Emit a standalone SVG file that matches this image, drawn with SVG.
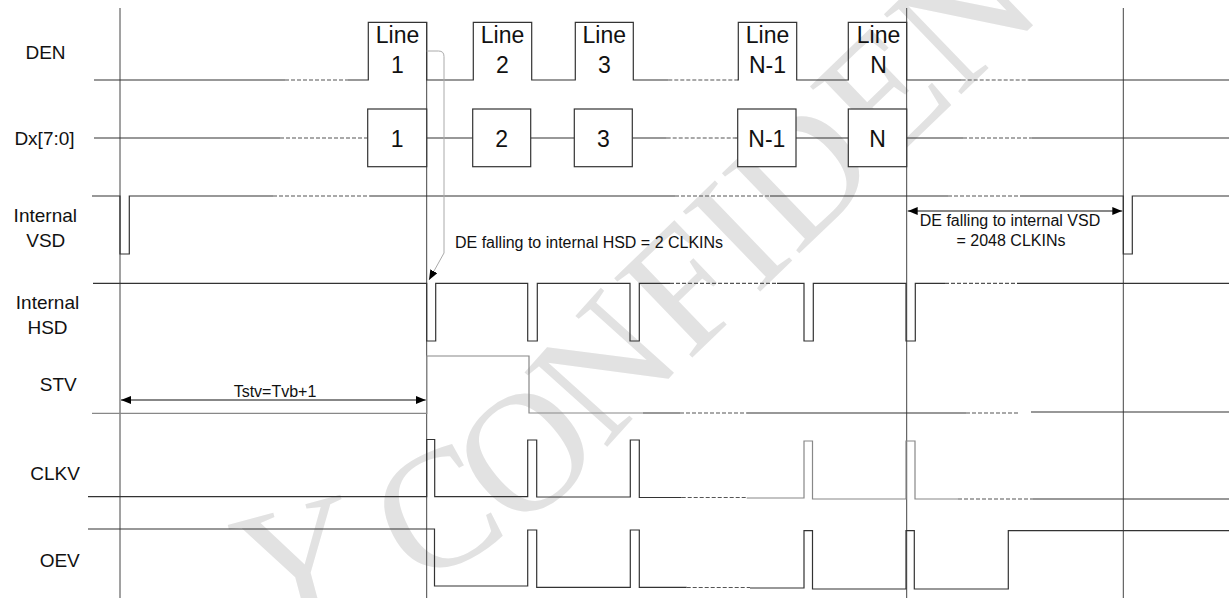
<svg xmlns="http://www.w3.org/2000/svg" width="1231" height="598" viewBox="0 0 1231 598">
<style>
.sig{fill:none;stroke:#333;stroke-width:1.2}
.gry{fill:none;stroke:#888;stroke-width:1.2}
.dsh{fill:none;stroke:#555;stroke-width:1.2;stroke-dasharray:4 2}
.vl{fill:none;stroke:#444;stroke-width:1}
.box{fill:#fff;stroke:#333;stroke-width:1.2}
.lbl{font-family:"Liberation Sans",Arial,sans-serif;font-size:19px;fill:#111;text-anchor:middle}
.bt{font-family:"Liberation Sans",Arial,sans-serif;font-size:23px;fill:#111;text-anchor:middle}
.nt{font-family:"Liberation Sans",Arial,sans-serif;font-size:16px;fill:#111}
.wm{font-family:"Liberation Serif","Times New Roman",serif;font-size:170px;fill:#e2e2e2;text-anchor:middle}
</style>
<defs>
<marker id="ah" viewBox="0 0 10 8" refX="10" refY="4" markerWidth="10" markerHeight="8" markerUnits="userSpaceOnUse" orient="auto-start-reverse"><path d="M0,0 L10,4 L0,8 Z" fill="#000"/></marker>
</defs>
<rect width="1231" height="598" fill="#fff"/>
<g id="watermark">
<text class="wm" transform="translate(314,617) rotate(-15)">Y</text>
<text class="wm" transform="translate(463,561) rotate(-28)">C</text>
<text class="wm" transform="translate(561,495) rotate(-40)">O</text>
<text class="wm" transform="translate(645,405) rotate(-48)">N</text>
<text class="wm" transform="translate(722,329) rotate(-44)">F</text>
<text class="wm" transform="translate(776,276) rotate(-44)">I</text>
<text class="wm" transform="translate(840,214) rotate(-44)">D</text>
<text class="wm" transform="translate(921,134) rotate(-44)">E</text>
<text class="wm" transform="translate(1002,55) rotate(-44)">N</text>
<text class="wm" transform="translate(1083,-24) rotate(-44)">T</text>
</g>

<g id="grid">
<path class="vl" d="M120,8 V598 M426.7,22 V598 M906.7,8 V598 M1123.3,8 V598"/>
</g>

<g id="labels">
<text class="lbl" x="45.5" y="59.3">DEN</text>
<text class="lbl" x="44.5" y="145">Dx[7:0]</text>
<text class="lbl" x="45.3" y="221.7">Internal</text>
<text class="lbl" x="45.8" y="246.7">VSD</text>
<text class="lbl" x="47.5" y="309">Internal</text>
<text class="lbl" x="47.5" y="334">HSD</text>
<text class="lbl" x="58.3" y="390.7">STV</text>
<text class="lbl" x="55" y="480">CLKV</text>
<text class="lbl" x="59.7" y="566.7">OEV</text>
</g>

<g id="DEN">
<path class="sig" d="M94,80 H285 M348,80 H368.3 V22.3 H426.7 V80 H473.3 V22.3 H531.7 V80 H575.3 V22.3 H633.3 V80 H668.3 M736.7,80 H738.3 V22.3 H796.7 V80 H848.3 V22.3 H906.7 V80 H961.7 M1028.3,80 H1229"/>
<path class="dsh" d="M285,80 H348 M668.3,80 H736.7 M961.7,80 H1028.3"/>
<text class="bt" x="397.5" y="42.7">Line</text><text class="bt" x="397.5" y="73.3">1</text>
<text class="bt" x="502.5" y="42.7">Line</text><text class="bt" x="502.5" y="73.3">2</text>
<text class="bt" x="604.3" y="42.7">Line</text><text class="bt" x="604.3" y="73.3">3</text>
<text class="bt" x="767.5" y="42.7">Line</text><text class="bt" x="767.5" y="73.3">N-1</text>
<text class="bt" x="878.5" y="42.7">Line</text><text class="bt" x="878.5" y="73.3">N</text>
</g>

<g id="Dx">
<path class="sig" d="M94,138 H280 M426.7,138 H472.7 M530.7,138 H574.3 M632.3,138 H666.7 M735,138 H737.7 M796,138 H848.3 M906.7,138 H963 M1031.7,138 H1229"/>
<path class="dsh" d="M280,138 H367.7 M666.7,138 H735 M963,138 H1031.7"/>
<rect class="box" x="367.7" y="109" width="59" height="57.7"/>
<rect class="box" x="472.7" y="109" width="58" height="57.7"/>
<rect class="box" x="574.3" y="109" width="58" height="57.7"/>
<rect class="box" x="737.7" y="109" width="58.3" height="57.7"/>
<rect class="box" x="848.3" y="109" width="58.4" height="57.7"/>
<text class="bt" x="397.2" y="146.7">1</text>
<text class="bt" x="501.7" y="146.7">2</text>
<text class="bt" x="603.3" y="146.7">3</text>
<text class="bt" x="766.8" y="146.7">N-1</text>
<text class="bt" x="877.5" y="146.7">N</text>
</g>

<g id="VSD">
<path class="sig" d="M92,196 H120 V254 H129.3 V196 H273 M370,196 H675 M770,196 H948 M1020,196 H1123.3 V254 H1132.3 V196 H1229"/>
<path class="dsh" d="M273,196 H370 M675,196 H770 M948,196 H1020"/>
</g>

<g id="HSD">
<path class="sig" d="M93,283.3 H426.7 V341 H435.7 V283.3 H527.7 V341 H537.3 V283.3 H630 V341 H639.3 V283.3 H670 M777,283.3 H804 V341 H813.3 V283.3 H906 V341 H915.3 V283.3 H945 M1017,283.3 H1229"/>
<path class="dsh" d="M670,283.3 H777 M945,283.3 H1017"/>
</g>

<g id="STV">
<path class="gry" d="M92,413.3 H426.7 V356 H529 V413 H643"/>
<path class="sig" d="M643,413 H680 M747,413 H966 M1031,412 H1229"/>
<path class="dsh" d="M680,413 H747 M966,413 H1019"/>
</g>

<g id="CLKV">
<path class="sig" d="M88,496.7 H426.7 V439.5 H434.7 V496.7 H527.7 V440 H536.7 V497 H630.3 V440 H639.3 V497.5 H681.7"/>
<path class="gry" d="M746.7,498 H804 V441 H812.5 V499 H906 V441 H915 V499 H958"/>
<path class="sig" d="M1033,499 H1229"/>
<path class="dsh" d="M681.7,497.5 H746.7 M958,499 H1033"/>
</g>

<g id="OEV">
<path class="sig" d="M88,529 H434.5 V586 H527.7 V530 H536.7 V587.3 H630.3 V530 H639.3 V587.3 H686.7 M750,588 H804 V530.7 H812.5 V589 H906 V530.7 H914.3 V589 H1008.3 V530.7 H1229"/>
<path class="dsh" d="M686.7,587.5 H750"/>
</g>

<g id="connectors">
<path d="M426.7,51 H438.5 Q444,51 444,56.5 V253 L429,280" fill="none" stroke="#aaa" stroke-width="1" marker-end="url(#ah)"/>
<path d="M121,400 H425.7" fill="none" stroke="#111" stroke-width="1.2" marker-start="url(#ah)" marker-end="url(#ah)"/>
<path d="M907.7,211 H1122.3" fill="none" stroke="#111" stroke-width="1.2" marker-start="url(#ah)" marker-end="url(#ah)"/>
</g>

<g id="notes">
<text class="nt" x="455" y="247.7">DE falling to internal HSD = 2 CLKINs</text>
<text class="nt" x="275" y="397" text-anchor="middle">Tstv=Tvb+1</text>
<text class="nt" x="1010" y="226" text-anchor="middle">DE falling to internal VSD</text>
<text class="nt" x="1011" y="246" text-anchor="middle">= 2048 CLKINs</text>
</g>
</svg>
